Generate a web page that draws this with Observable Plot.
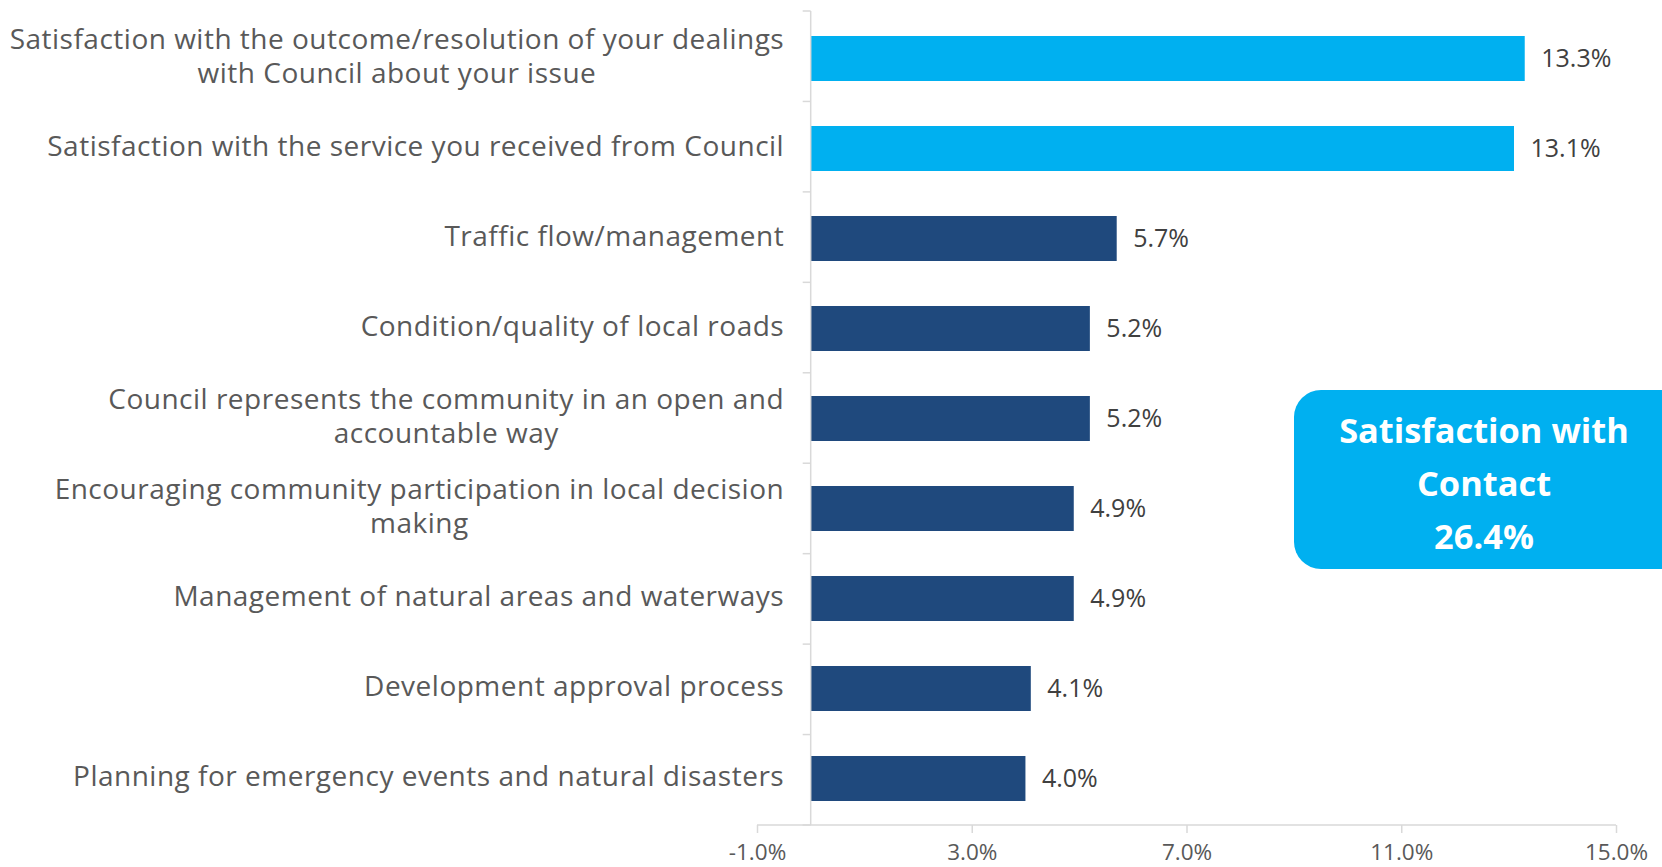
<!DOCTYPE html>
<html>
<head>
<meta charset="utf-8">
<script src="https://cdn.jsdelivr.net/npm/d3@7"></script>
<script src="https://cdn.jsdelivr.net/npm/@observablehq/plot@0.6"></script>
<style>
  html, body { margin: 0; padding: 0; background: #fff; overflow: hidden; }
  #wrap { position: relative; width: 1662px; height: 867px; }
  #callout {
    position: absolute; left: 1294px; top: 390px; width: 400px; height: 179px;
    background: #00B0F0; border-radius: 27px;
    color: #fff; font-family: "Open Sans", sans-serif; font-weight: bold; font-size: 34.4px;
    line-height: 53px; box-sizing: border-box; padding-top: 13px;
  }
  #callout div { width: 380px; text-align: center; }
</style>
</head>
<body>
<div id="wrap">
  <div id="chart"></div>
  <div id="callout"><div>Satisfaction with</div><div>Contact</div><div>26.4%</div></div>
</div>
<script>
const categories = [
  "Satisfaction with the outcome/resolution of your dealings\nwith Council about your issue",
  "Satisfaction with the service you received from Council",
  "Traffic flow/management",
  "Condition/quality of local roads",
  "Council represents the community in an open and\naccountable way",
  "Encouraging community participation in local decision\nmaking",
  "Management of natural areas and waterways",
  "Development approval process",
  "Planning for emergency events and natural disasters"
];
const values = [13.3, 13.1, 5.7, 5.2, 5.2, 4.9, 4.9, 4.1, 4.0];
const groups = ["contact", "contact", "other", "other", "other", "other", "other", "other", "other"];
const xTicks = [-1, 3, 7, 11, 15];

const data = categories.map((c, i) => ({category: c, value: values[i], group: groups[i]}));

const gridColor = "#D9D9D9";

function axisLines(index, scales, vals, dims) {
  const ns = "http://www.w3.org/2000/svg";
  const g = document.createElementNS(ns, "g");
  const top = dims.marginTop, bottom = dims.height - dims.marginBottom;
  const x = scales.x;
  const x0 = x(0);
  const add = (x1, y1, x2, y2) => {
    const l = document.createElementNS(ns, "line");
    l.setAttribute("x1", x1); l.setAttribute("y1", y1);
    l.setAttribute("x2", x2); l.setAttribute("y2", y2);
    l.setAttribute("stroke", gridColor); l.setAttribute("stroke-width", 1.5);
    g.appendChild(l);
  };
  add(x0, top, x0, bottom);
  add(x(xTicks[0]), bottom, x(xTicks[xTicks.length - 1]), bottom);
  const step = (bottom - top) / categories.length;
  for (let i = 0; i <= categories.length; i++) add(x0 - 8, top + i * step, x0, top + i * step);
  return g;
}

const chart = Plot.plot({
  width: 1662,
  height: 867,
  marginLeft: 757,
  marginRight: 46,
  marginTop: 11,
  marginBottom: 42,
  style: {fontFamily: "'Open Sans', sans-serif", background: "#fff"},
  x: {domain: [-1, 15]},
  y: {domain: categories, paddingInner: 0.5, paddingOuter: 0.25, axis: null},
  color: {domain: ["contact", "other"], range: ["#00B0F0", "#1F497D"]},
  marks: [
    Plot.barX(data, {y: "category", x1: 0, x2: "value", fill: "group"}),
    axisLines,
    Plot.axisX({
      ticks: xTicks, tickSize: 8, tickPadding: 11, stroke: gridColor, strokeWidth: 1.5,
      tickFormat: d => d.toFixed(1) + "%", fontSize: 22.5, fill: "#595959", label: null
    }),
    Plot.text(data, {
      y: "category", x: "value", text: d => d.value.toFixed(1) + "%",
      textAnchor: "start", dx: 16, fontSize: 25, fill: "#404040"
    }),
    Plot.text(data, {
      y: "category", x: () => 0, text: "category", textAnchor: "end", dx: -27, dy: -4,
      fontSize: 28, fill: "#595959", lineHeight: 1.22
    })
  ]
});
document.getElementById("chart").appendChild(chart);

// category labels: slight letter spacing, and centre-align the lines of wrapped labels
const flatCats = new Set(categories.map(c => c.replace("\n", "")));
chart.querySelectorAll("text").forEach(t => {
  if (!flatCats.has(t.textContent)) return;
  t.setAttribute("letter-spacing", "0.5px");
  const spans = t.querySelectorAll("tspan");
  if (spans.length < 2) return;
  let maxW = 0;
  spans.forEach(s => { maxW = Math.max(maxW, s.getComputedTextLength()); });
  t.setAttribute("text-anchor", "middle");
  t.style.textAnchor = "middle";
  spans.forEach(s => s.setAttribute("x", -maxW / 2));
});
</script>
</body>
</html>
